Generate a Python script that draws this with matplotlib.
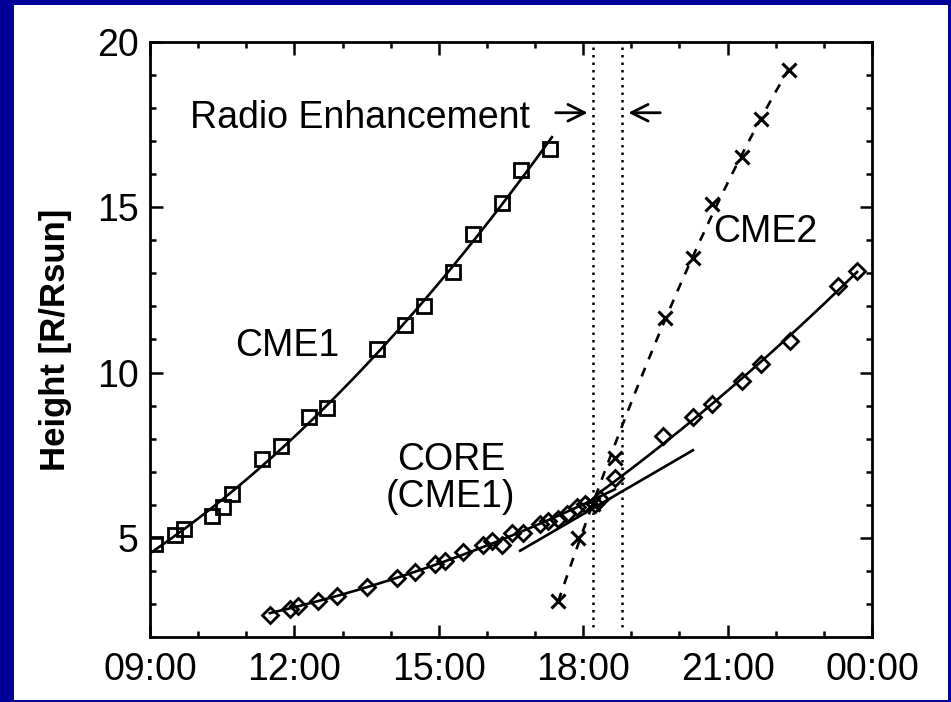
import numpy as np
import matplotlib
matplotlib.use('Agg')
import matplotlib.pyplot as plt
from matplotlib.patches import Rectangle

plt.rcParams['font.family'] = ['Liberation Sans', 'DejaVu Sans']

# Data (time in decimal hours, 24 = 00:00 next day; height in R/Rsun)
cme1_t = [9.10, 9.52, 9.71, 10.29, 10.52, 10.70, 11.33, 11.72, 12.30, 12.68,
          13.72, 14.30, 14.69, 15.30, 15.71, 16.31, 16.71, 17.31]
cme1_h = [4.82, 5.09, 5.27, 5.66, 5.93, 6.33, 7.38, 7.78, 8.65, 8.92,
          10.70, 11.43, 12.00, 13.03, 14.20, 15.14, 16.14, 16.77]

core_t = [11.49, 11.91, 12.08, 12.49, 12.89, 13.51, 14.13, 14.51, 14.92, 15.13,
          15.50, 15.92, 16.11, 16.31, 16.52, 16.75, 17.10, 17.27, 17.48, 17.66,
          17.87, 18.04, 18.25, 18.35, 18.66, 19.66, 20.28, 20.68, 21.30, 21.70,
          22.30, 23.30, 23.69]
core_h = [2.67, 2.86, 2.95, 3.10, 3.25, 3.52, 3.79, 3.97, 4.21, 4.30,
          4.58, 4.79, 4.91, 4.79, 5.15, 5.15, 5.42, 5.51, 5.57, 5.72,
          5.93, 6.02, 6.02, 6.17, 6.81, 8.08, 8.65, 9.04, 9.74, 10.26,
          10.95, 12.61, 13.07]

cme2_t = [17.48, 17.89, 18.20, 18.66, 19.70, 20.28, 20.68, 21.30, 21.70, 22.28]
cme2_h = [3.10, 5.00, 6.02, 7.41, 11.64, 13.48, 15.11, 16.53, 17.68, 19.15]

# straight-line fit through the CORE points around the radio enhancement
core_line_t = [16.69, 20.28]
core_line_h = [4.61, 7.65]

radio_start = 18.20
radio_end = 18.81

xticks = [9, 12, 15, 18, 21, 24]
xticklabels = ['09:00', '12:00', '15:00', '18:00', '21:00', '00:00']
yticks = [5, 10, 15, 20]

# Settings
bg_color = '#000099'
lw = 1.9
mew = 2.0
fs = 27


def quad_fit(t, h, t0, t1):
    t = np.asarray(t)
    h = np.asarray(h)
    sel = (t >= t0) & (t <= t1)
    p = np.polyfit(t[sel], h[sel], 2)
    tt = np.linspace(t0, t1, 200)
    return tt, np.polyval(p, tt)


fig = plt.figure(figsize=(9.51, 7.02), dpi=100)
fig.patch.set_facecolor(bg_color)
panel = Rectangle((14 / 951, 2 / 702), 934 / 951, 695 / 702,
                  transform=fig.transFigure, facecolor='white',
                  edgecolor='none', zorder=-10)
fig.add_artist(panel)

ax = fig.add_axes([150 / 951, 65 / 702, 722 / 951, 595 / 702])
ax.set_facecolor('white')
ax.set_zorder(1)

# CME1
ax.plot(cme1_t, cme1_h, 's', ms=10, mfc='none', mec='black', mew=mew)
tt, hh = quad_fit(cme1_t, cme1_h, 9.0, 17.35)
ax.plot(tt, hh, '-', color='black', lw=lw)

# CORE
ax.plot(core_t, core_h, 'D', ms=8.5, mfc='none', mec='black', mew=mew)
tt, hh = quad_fit(core_t, core_h, 11.49, 18.66)
ax.plot(tt, hh, '-', color='black', lw=lw)
tt, hh = quad_fit(core_t, core_h, 18.30, 23.69)
ax.plot(tt, hh, '-', color='black', lw=lw)
ax.plot(core_line_t, core_line_h, '-', color='black', lw=lw)

# CME2
ax.plot(cme2_t, cme2_h, 'x', ms=10, mec='black', mew=2.2)
tt, hh = quad_fit(cme2_t, cme2_h, 17.48, 22.28)
ax.plot(tt, hh, color='black', lw=lw, linestyle=(0, (3.5, 3.5)))

# Radio enhancement interval
for xr in (radio_start, radio_end):
    ax.plot([xr, xr], [2.3, 20], color='black', lw=1.8, linestyle=(0, (1, 2)))

ax.text(9.83, 17.40, 'Radio Enhancement', fontsize=fs, va='baseline', ha='left')
ax.annotate('', xy=(18.15, 17.86), xytext=(17.37, 17.86),
            arrowprops=dict(arrowstyle='->', lw=2.0, mutation_scale=30, color='black'))
ax.annotate('', xy=(18.88, 17.86), xytext=(19.66, 17.86),
            arrowprops=dict(arrowstyle='->', lw=2.0, mutation_scale=30, color='black'))

ax.text(10.77, 10.49, 'CME1', fontsize=fs, va='baseline', ha='left')
ax.text(15.25, 7.05, 'CORE', fontsize=fs, va='baseline', ha='center')
ax.text(15.25, 5.93, '(CME1)', fontsize=fs, va='baseline', ha='center')
ax.text(20.70, 13.96, 'CME2', fontsize=fs, va='baseline', ha='left')

# Axes
ax.set_xlim(9, 24)
ax.set_ylim(2, 20)
ax.set_xticks(xticks)
ax.set_xticklabels(xticklabels)
ax.set_xticks(np.arange(9, 25, 1), minor=True)
ax.set_yticks(yticks)
ax.set_yticks(np.arange(2, 21, 1), minor=True)
ax.tick_params(which='both', direction='in', top=True, right=True,
               width=1.8, labelsize=fs, colors='black')
ax.tick_params(which='major', length=9)
ax.tick_params(which='minor', length=4.5)
ax.tick_params(axis='x', pad=11)
ax.tick_params(axis='y', pad=8)
for sp in ax.spines.values():
    sp.set_linewidth(2.0)

ax.set_ylabel('Height [R/Rsun]', fontsize=25, fontweight='bold')
ax.yaxis.set_label_coords(-0.108, 0.5)

fig.savefig('out.png', dpi=100, facecolor=fig.get_facecolor())
